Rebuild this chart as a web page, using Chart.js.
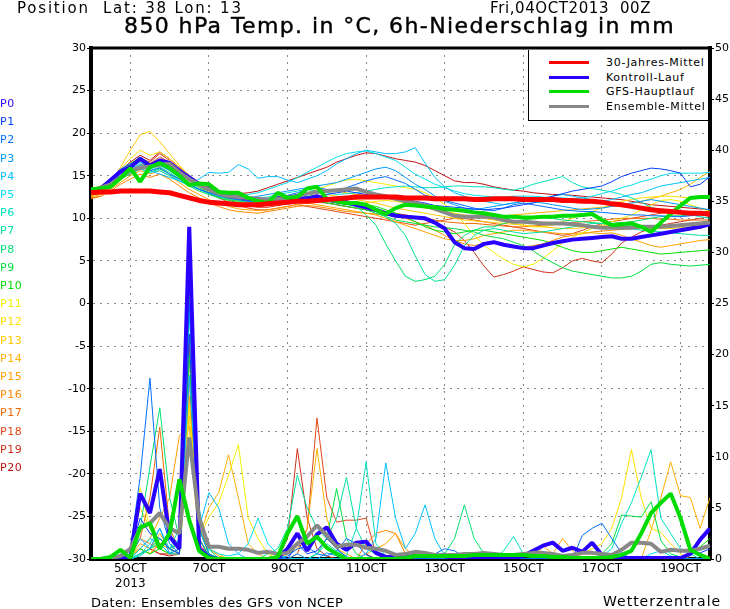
<!DOCTYPE html>
<html>
<head>
<meta charset="utf-8">
<script src="https://cdn.jsdelivr.net/npm/chart.js@4.4.1/dist/chart.umd.min.js"></script>
<style>
  html, body { margin: 0; padding: 0; background: #fff; }
  #wrap { position: relative; width: 730px; height: 609px; font-family: 'DejaVu Sans', sans-serif; color: #000; }
  #wrap canvas { position: absolute; left: 0; top: 0; }
  .txt { position: absolute; white-space: pre; line-height: 1; }
  #legend { position: absolute; left: 528px; top: 50px; width: 180px; height: 71px; background: #fff;
            border-left: 1px solid #000; border-bottom: 1px solid #000; box-sizing: border-box; }
  .item { position: absolute; left: 0; height: 14px; width: 180px; }
  .item span.sw { position: absolute; left: 20px; top: 5px; width: 40px; height: 3px; }
  .item span.lb { position: absolute; left: 77px; top: 0; font-size: 11px; line-height: 14px; letter-spacing: 0.7px; }
  .plab { position: absolute; left: 0; font-size: 11px; line-height: 12px; letter-spacing: 0.5px; }
</style>
</head>
<body>
<div id="wrap">
  <canvas id="graph" width="730" height="609"></canvas>
  <div class="txt" style="left:17px;top:1px;font-size:15px;letter-spacing:1.8px;">Position  Lat: 38 Lon: 13</div>
  <div class="txt" style="left:490px;top:1px;font-size:15px;letter-spacing:0.6px;">Fri,04OCT2013  00Z</div>
  <div class="txt" style="left:124px;top:15px;font-size:22px;letter-spacing:1.4px;-webkit-text-stroke:0.4px #000;">850 hPa Temp. in °C, 6h-Niederschlag in mm</div>
  <div id="legend"></div>
  <div id="plabels"></div>
  <div class="txt" style="left:91px;top:596px;font-size:13px;letter-spacing:0.3px;">Daten: Ensembles des GFS von NCEP</div>
  <div class="txt" style="left:603px;top:594px;font-size:14px;letter-spacing:1px;">Wetterzentrale</div>
</div>
<script>
// forecast hours from 04OCT2013 00Z, 6h steps
var hours = [0,6,12,18,24,30,36,42,48,54,60,66,72,78,84,90,96,102,108,114,
  120,126,132,138,144,150,156,162,168,174,180,186,192,198,204,210,216,222,228,234,
  240,246,252,258,264,270,276,282,288,294,300,306,312,318,324,330,336,342,348,354,
  360,366,372,378];

var xTickHours = [24, 72, 120, 168, 216, 264, 312, 360];
var xTickLabels = ["5OCT", "7OCT", "9OCT", "11OCT", "13OCT", "15OCT", "17OCT", "19OCT"];
var memberNames = ["P0","P1","P2","P3","P4","P5","P6","P7","P8","P9","P10",
  "P11","P12","P13","P14","P15","P16","P17","P18","P19","P20"];
var memberColors = ["#2800ff","#0040ff","#0070ff","#0098ff","#00c0ff","#00e0f0","#00e0c0",
  "#00e0a0","#00e070","#00e040","#00e000","#f0f000","#ffe000","#ffc800","#ffb000",
  "#ffa000","#ff8800","#f06800","#e04818","#d03018","#c01010"];

// 850 hPa temperature (left axis)
var tMittel30 = [13.0,13.1,13.1,13.2,13.2,13.2,13.2,13.1,13.0,12.7,12.4,12.1,11.9,11.8,11.7,11.6,11.6,11.6,11.7,11.8,11.9,
  12.0,12.0,12.1,12.2,12.3,12.4,12.5,12.5,12.5,12.5,12.5,12.4,12.4,12.4,12.3,12.3,12.3,12.3,12.2,12.2,
  12.3,12.3,12.3,12.2,12.2,12.2,12.2,12.1,12.1,12.0,12.0,11.9,11.7,11.6,11.4,11.2,11.0,10.9,10.8,10.7,10.6,10.6,10.5];
var tKontroll = [13.3,13.5,14.5,15.5,16.0,17.0,16.2,16.8,16.5,15.6,14.8,14.0,13.5,13.0,12.6,12.5,12.3,12.2,12.0,12.4,12.3,
  12.5,12.3,12.6,12.2,12.0,11.9,11.6,11.3,11.0,10.6,10.3,10.2,10.1,10.0,9.5,8.8,7.2,6.5,6.4,7.0,
  7.2,6.9,6.7,6.5,6.5,6.8,7.1,7.3,7.5,7.6,7.7,7.8,7.9,7.6,7.6,7.8,8.0,8.2,8.4,8.6,8.8,9.0,9.3];
var tGfs = [13.4,13.5,13.7,14.7,15.9,14.3,16.0,16.5,15.9,15.0,13.9,14.1,14.0,13.1,13.0,13.0,12.4,12.0,11.8,13.0,12.4,
  12.5,13.5,13.7,12.3,12.0,11.8,11.8,11.6,11.0,10.5,11.2,11.6,11.5,11.4,11.3,11.1,11.0,10.9,10.7,10.6,
  10.4,10.2,10.2,10.1,10.1,10.2,10.2,10.3,10.3,10.4,10.5,9.8,9.2,9.3,9.4,9.0,8.4,9.5,10.5,11.5,12.4,12.5,12.5];
var tEnsMittel = [13.3,13.6,14.0,14.8,15.6,15.9,16.1,16.3,16.4,15.4,14.6,14.0,13.4,12.9,12.6,12.5,12.4,12.3,12.2,12.3,12.4,
  12.6,12.9,13.1,13.2,13.3,13.4,13.5,13.1,12.8,12.6,12.3,12.0,11.8,11.5,11.1,10.7,10.3,10.2,10.2,10.2,
  10.1,9.8,9.6,9.6,9.5,9.4,9.4,9.4,9.3,9.2,9.0,8.9,8.9,8.9,8.9,9.0,9.0,9.0,9.1,9.2,9.3,9.4,9.5];

var tP1 = [13.0,13.4,14.2,15.2,16.0,17.0,16.0,16.6,16.0,15.2,14.6,14.0,13.5,13.0,12.8,12.6,12.4,12.2,12.0,12.3,12.6,
  12.8,12.6,12.4,12.8,13.0,13.2,13.0,12.8,12.6,12.4,12.3,12.2,12.0,11.8,11.5,11.4,11.3,11.2,11.1,11.0,
  11.1,11.2,11.4,11.6,11.8,12.2,12.6,12.9,13.2,13.4,13.6,13.8,14.3,14.9,15.3,15.6,15.9,15.8,15.6,15.3,13.7,14.0,14.9];
var tP2 = [13.2,13.6,14.6,15.8,16.4,16.8,15.6,15.9,15.2,14.6,14.0,13.4,13.0,12.7,12.4,12.2,12.0,11.9,12.1,12.4,12.7,
  13.0,13.4,13.6,13.4,13.2,13.6,14.0,14.4,14.7,14.9,14.5,14.1,13.4,12.7,12.4,12.1,11.8,11.5,11.2,11.0,
  10.9,11.2,11.6,11.8,11.6,11.4,11.2,11.0,10.9,10.8,10.8,10.7,10.6,10.5,10.4,10.4,10.3,10.3,10.2,10.2,10.3,10.4,10.5];
var tP3 = [12.8,13.2,14.0,15.0,15.6,16.2,15.8,16.2,15.6,14.8,14.0,13.4,13.0,12.6,12.4,12.2,12.4,12.6,12.8,13.0,13.2,
  13.4,13.6,13.8,14.0,14.2,14.6,15.0,15.4,15.8,16.0,15.6,14.8,14.0,13.4,12.6,12.0,11.6,11.2,11.0,11.2,
  11.4,11.6,11.8,12.0,11.9,11.8,11.6,11.4,11.2,11.0,11.1,11.2,11.4,11.6,11.8,12.0,12.2,12.0,11.8,11.6,11.4,11.2,11.0];
var tP4 = [13.0,13.4,14.2,15.0,15.8,16.4,15.6,15.2,14.8,14.4,14.0,14.6,15.4,15.3,15.4,16.3,15.8,14.7,14.9,14.9,14.5,
  14.2,14.6,15.0,15.6,16.4,17.0,17.6,18.0,17.8,17.6,17.6,17.8,18.3,16.5,14.8,13.7,13.0,12.6,12.2,12.0,
  11.8,11.6,11.8,12.0,12.2,12.4,12.6,12.8,12.6,12.4,12.2,12.0,12.2,12.5,12.8,13.0,13.4,13.8,14.0,14.2,14.4,14.6,14.8];
var tP5 = [12.9,13.3,14.0,14.8,15.4,15.8,15.4,15.6,15.0,14.4,13.8,13.4,13.0,12.8,12.6,12.6,12.8,13.0,13.4,13.8,14.2,
  14.8,15.4,16.0,16.6,17.2,17.6,17.8,17.9,17.6,17.2,16.8,16.0,15.2,14.6,14.0,13.6,13.2,12.9,12.7,12.6,
  12.5,12.5,12.6,12.6,12.6,12.5,12.4,12.4,12.3,12.4,12.6,12.9,13.2,13.6,13.9,14.3,14.6,15.0,15.3,15.3,15.3,15.3,15.4];
var tP6 = [13.1,13.5,14.4,15.4,16.2,16.8,16.2,16.8,16.4,15.6,14.8,14.2,13.6,13.2,12.9,12.7,12.5,12.4,12.5,12.8,13.0,
  13.2,13.4,13.2,13.0,12.8,12.9,13.0,13.2,13.4,13.6,13.7,13.8,13.7,13.6,13.6,13.7,13.8,13.8,13.7,13.7,
  13.6,13.4,13.3,13.6,14.0,14.3,14.6,14.9,14.2,13.7,13.5,13.3,13.1,12.8,12.4,11.9,11.3,11.0,10.8,10.6,10.4,10.2,10.0];
var tP7 = [13.2,13.6,14.4,15.4,16.0,16.6,16.0,16.4,15.8,15.0,14.2,13.6,13.0,12.6,12.3,12.1,12.0,11.9,12.0,12.2,12.4,
  12.6,12.4,12.2,12.0,11.8,11.6,11.4,11.2,10.8,10.2,9.4,8.0,5.6,3.4,2.6,2.8,4.5,6.8,8.0,8.6,
  8.8,8.6,8.4,8.2,8.3,8.4,8.6,8.8,9.0,9.2,9.4,9.4,9.2,9.0,8.8,8.6,8.5,8.4,8.3,8.2,8.1,8.0,8.0];
var tP8 = [13.0,13.4,14.0,14.8,15.4,16.0,15.6,16.0,15.4,14.6,14.0,13.4,12.9,12.5,12.2,12.0,11.9,11.9,12.1,12.3,12.5,
  12.6,12.5,12.3,12.2,12.0,11.9,11.4,10.4,9.2,7.0,5.0,3.2,2.6,2.8,3.2,4.6,6.9,8.0,8.6,9.0,
  9.0,9.4,9.6,9.8,10.0,10.1,10.0,9.8,9.7,9.6,9.5,9.4,9.4,9.5,9.6,9.8,10.0,10.2,10.3,10.3,10.4,10.4,10.5];
var tP9 = [12.8,13.2,13.8,14.6,15.2,15.8,15.4,15.8,15.2,14.4,13.8,13.2,12.8,12.4,12.1,11.8,11.6,11.6,11.8,12.0,12.2,
  12.4,12.2,12.0,11.8,11.6,11.4,11.2,11.0,10.6,10.2,9.8,9.6,9.4,9.2,9.0,8.9,8.8,8.6,8.4,8.0,
  7.8,7.6,7.2,6.8,6.2,5.4,4.8,4.2,3.8,3.6,3.4,3.2,3.0,3.0,3.2,3.8,4.6,4.8,4.6,4.5,4.4,4.5,4.6];
var tP10 = [13.4,13.8,14.6,15.6,16.4,17.2,16.4,16.8,16.2,15.4,14.6,14.0,13.4,13.0,12.7,12.4,12.2,12.0,12.0,12.2,12.4,
  12.6,12.8,12.6,12.4,12.2,12.0,11.8,11.6,11.4,11.0,10.6,10.2,9.6,9.0,8.6,8.4,8.2,8.4,8.6,8.6,
  8.4,8.2,8.0,7.8,7.6,7.4,7.0,6.6,6.2,6.0,6.0,6.2,6.4,6.6,6.4,6.2,6.0,5.8,5.9,6.0,6.1,6.2,6.3];
var tP11 = [12.6,13.0,13.6,14.6,15.4,16.2,15.8,16.4,15.8,15.0,14.2,13.6,13.0,12.6,12.3,12.0,11.8,11.6,11.8,12.0,12.3,
  12.6,13.0,13.4,13.8,14.2,14.5,14.6,14.4,14.2,14.0,13.8,13.6,13.4,13.0,12.4,11.6,10.6,9.4,8.0,6.8,
  6.0,5.2,4.6,4.3,4.6,5.3,6.2,7.1,7.8,8.3,8.8,9.2,9.6,10.0,10.4,11.0,11.6,12.1,12.2,12.0,11.6,11.2,10.8];
var tP12 = [13.0,13.4,14.4,15.8,17.0,18.0,17.4,17.8,17.0,16.0,15.0,14.2,13.6,13.0,12.6,12.2,12.0,11.8,11.7,11.9,12.1,
  12.3,12.4,12.2,12.0,11.8,11.6,11.6,11.8,12.0,12.1,12.0,11.8,11.5,11.2,11.0,10.8,10.6,10.4,10.2,10.0,
  9.8,9.6,9.4,9.2,9.0,9.0,9.2,9.6,10.0,10.4,10.8,11.2,11.6,12.0,12.2,12.4,12.5,12.6,12.6,12.5,12.4,12.4,12.4];
var tP13 = [12.7,13.0,14.2,16.0,18.0,19.8,20.2,19.0,17.6,16.2,15.0,14.0,13.2,12.6,12.2,11.9,11.7,11.6,11.7,11.9,12.0,
  12.2,12.4,12.6,12.8,12.6,12.4,12.2,12.0,11.8,11.5,11.2,11.0,10.8,10.6,10.4,10.2,10.0,9.8,9.7,9.6,
  9.5,9.4,9.3,9.2,9.1,9.0,8.9,8.8,8.8,8.9,9.0,9.1,9.2,9.1,9.0,8.9,8.8,8.8,8.8,8.9,9.0,9.1,9.2];
var tP14 = [13.1,13.5,14.2,15.2,16.0,16.8,16.2,16.6,16.0,15.2,14.4,13.8,13.2,12.8,12.4,12.1,11.9,11.8,12.0,12.3,12.6,
  12.8,13.0,13.2,13.4,13.2,13.0,12.8,12.7,12.6,12.4,12.2,12.0,11.8,11.6,11.4,11.2,11.0,10.8,10.6,10.5,
  10.4,10.3,10.4,10.5,10.6,10.7,10.8,10.9,11.0,11.1,11.2,11.3,11.4,11.6,11.8,12.0,12.3,12.6,13.0,13.4,14.0,14.8,15.5];
var tP15 = [12.5,12.8,13.4,14.2,15.0,15.6,15.2,15.6,15.0,14.2,13.4,12.8,12.2,11.8,11.4,11.1,11.0,10.9,11.0,11.2,11.4,
  11.6,11.8,11.6,11.4,11.2,11.0,10.8,10.6,10.4,10.0,9.6,9.2,8.8,8.4,8.0,7.6,7.4,7.4,7.6,8.0,
  8.2,8.4,8.6,8.6,8.5,8.4,8.3,8.2,8.2,8.3,8.3,8.2,8.3,8.0,7.6,7.2,6.8,6.6,6.8,7.0,7.2,7.4,7.5];
var tP16 = [12.4,12.6,13.2,14.0,14.6,15.2,14.8,15.2,14.6,13.8,13.0,12.4,11.8,11.4,11.0,10.8,10.7,10.6,10.8,11.0,11.2,
  11.4,11.5,11.4,11.2,11.0,10.8,10.7,10.6,10.5,10.4,10.3,10.0,9.6,9.2,8.6,8.0,7.4,7.0,6.8,7.0,
  7.2,7.0,6.8,6.6,6.8,7.0,7.4,7.8,8.0,8.2,8.4,8.5,8.6,8.7,8.8,8.9,9.0,9.0,9.1,9.2,9.2,9.3,9.3];
var tP17 = [12.3,12.6,13.6,14.8,15.6,16.4,16.0,16.4,15.8,15.0,14.2,13.6,13.0,12.6,12.3,12.0,11.8,11.7,11.8,12.0,12.2,
  12.4,12.2,12.0,11.8,11.6,11.4,11.2,11.1,11.0,10.8,10.6,10.4,10.2,10.0,9.8,9.6,9.5,9.4,9.4,9.3,
  9.2,9.1,9.0,9.0,9.1,9.2,9.3,9.4,9.5,9.6,9.7,9.8,9.9,10.0,10.0,10.0,10.0,9.9,9.9,9.8,9.8,9.8,9.8];
var tP18 = [12.6,13.0,13.8,15.0,16.0,16.8,16.4,17.2,16.6,15.6,14.6,13.8,13.0,12.4,11.9,11.5,11.2,11.0,11.0,11.2,11.4,
  11.6,11.4,11.2,11.0,10.8,10.6,10.4,10.2,10.0,9.8,9.6,9.4,9.2,9.4,9.6,9.8,10.0,10.0,9.8,9.6,
  9.4,9.2,9.0,8.8,8.6,8.4,8.2,8.0,8.2,8.6,9.0,9.4,9.6,9.8,10.0,10.2,10.4,10.6,10.7,10.8,10.8,10.8,10.8];
var tP19 = [12.8,13.2,14.2,15.4,16.4,17.0,16.6,17.6,16.8,15.8,14.8,14.0,13.2,12.6,12.2,11.8,11.5,11.3,11.3,11.5,11.7,
  11.9,12.0,11.9,11.8,11.6,11.4,11.2,11.0,10.8,10.6,10.4,10.2,10.0,9.8,9.4,9.0,8.4,7.4,6.0,4.4,
  3.1,3.4,3.8,4.3,4.0,3.7,3.6,4.2,5.0,5.3,5.0,4.8,5.8,7.1,7.8,8.4,8.8,9.2,9.4,9.6,9.8,10.0,10.2];
var tP20 = [12.9,13.3,14.4,15.6,16.6,17.4,16.8,17.8,17.0,16.0,15.0,14.2,13.6,13.2,13.0,12.9,13.0,13.2,13.6,14.0,14.4,
  14.8,15.2,15.6,16.0,16.6,17.0,17.4,17.7,17.6,17.3,17.0,16.8,16.6,16.2,15.6,15.0,14.4,14.2,14.2,14.0,
  13.7,13.5,13.3,13.2,13.0,12.9,12.8,12.8,12.7,12.6,12.5,12.4,12.3,12.2,12.0,11.8,11.6,11.5,11.4,11.3,11.2,11.1,11.0];

// 6h precipitation in mm (right axis)
var rKontroll = [0,0,0,0,0.1,6.4,4.5,8.8,2.2,1.0,32.5,1.0,0.2,0,0,0,
  0,0,0,0.1,1.0,2.5,0.8,2.4,3.1,1.5,0.9,1.6,1.7,0.6,0.2,0.2,
  0.2,0.3,0.3,0.4,0.3,0,0,0,0,0,0,0.1,0.3,0.8,1.3,1.6,
  0.8,1.1,0.7,1.6,0.4,0.1,0.1,0.1,0.1,0.1,0.1,0.1,0.1,0.5,1.9,3.0];
var rGfs = [0,0,0.2,0.9,0.1,3.1,3.5,1.0,2.5,7.8,3.8,0.8,0.1,0,0,0,
  0,0,0,0.2,2.5,4.2,1.5,2.2,1.1,0.5,0,0,0,0,0,0,
  0.1,0.3,0.3,0.3,0.3,0.3,0.3,0.4,0.4,0.4,0.4,0.4,0.4,0.3,0.3,0.2,
  0.2,0.1,0.1,0.1,0.1,0.2,0.4,0.8,2.5,4.5,5.5,6.4,4.0,0.9,0.4,0];
var rEnsMittel = [0,0,0.1,0.3,1.0,3.0,3.5,4.5,3.0,2.5,11.9,4.0,1.2,1.2,1.0,1.0,
  0.9,0.6,0.7,0.5,0.6,1.5,2.2,3.3,2.3,1.2,1.4,1.4,1.1,1.0,0.8,0.4,
  0.5,0.7,0.6,0.4,0.4,0.4,0.5,0.5,0.6,0.5,0.4,0.4,0.5,0.6,0.6,0.5,
  0.3,0.4,0.6,0.6,0.5,0.4,0.9,1.6,1.6,1.5,0.7,0.9,0.8,0.8,1.0,1.3];

var rP1 = [0,0,0,0,0.5,4.0,2.5,2.0,1.0,0.5,22,1.0,0,0,0,0,
  0,0,0,0,0,1.5,0.5,0.8,2.0,1.0,0.2,0,0,0,0,0,
  0,0,0,0,0,0,0,0,0,0,0,0,0,0,0,0,
  0,0,0,0,0,0,0,0,0,0,0,0,0.2,0.5,0.6,1.0];
var rP2 = [0,0,0,0,1.0,8.0,17.7,5.0,1.5,0.5,25,2.0,0.2,0,0,0,
  0,0,0,0,0.3,1.0,1.2,0.5,0.3,0.8,2.0,1.5,0.4,0,0,0,
  0,0,0,0.5,1.0,0.8,0.2,0,0,0,0,0,0,0,0,0,
  0,0,2.3,3.0,3.5,2.0,0.6,0,0,0,0,0,0,0,0,0];
var rP3 = [0,0,0,0,0.3,2.0,1.0,3.0,0.5,1.0,28,3.0,0.5,0,0,0,
  0,0,0,0,0,0.5,0,0,0.6,0.3,0,0,0,0,0,0,
  0,0,0,0,0,0,0,0,0,0,0,0,0,0,0,0,
  0,0,0,0,0,0,0,0,0,0,0,0,0,0,0,0];
var rP4 = [0,0,0,0,0,1.0,2.0,1.5,0.5,0.5,18,3.0,6.5,5.0,1.5,0.5,
  0,0,0,0,0,0,0,0,0,0,0,0,0.5,2.0,9.4,4.0,
  1.0,2.5,5.3,2.0,0.3,0,0,0,0,0,0,0,0,0,0,0,
  0,0,0,0,0,0,0,0,0,0,0,0,0,0,0,0];
var rP5 = [0,0,0,0,0,0.5,1.5,3.0,1.0,2.0,30,4.0,1.0,0.5,0.3,0.5,
  1.5,4.0,1.5,0.5,0,0,0,0,0,0,0,0,0,0,0,0,
  0,0,0,0,0,0,0,0,0,0,0,0,0,0,0,0,
  0,0,0,0,0,0,0,0,0,0.5,0.8,0.3,0,0,0,0];
var rP6 = [0,0,0,0,0,0.3,1.0,2.0,1.0,3.0,24,5.0,0.5,0,0,0,
  0,0,0,0,0,0,0,0.5,1.5,0.8,0.3,3.0,9.5,1.5,0.3,0,
  0,0,0,0,0,0,0,0,0,0,0.8,2.2,0.5,0,0,0,
  0,0,0,0,0.3,1.0,3.5,5.5,8.0,10.7,4.0,2.5,1.0,0.5,0,0];
var rP7 = [0,0,0,0,0,0.5,1.0,1.5,0.5,2.0,29,3.0,0.5,0,0,0,
  0,0,0.5,1.0,3.0,8.2,5.0,3.0,2.0,4.0,8.0,3.0,1.0,0.5,0,0,
  0,0,0,0,0,0,0,0,0,0,0,0,0,0,0,0,
  0,0,0,0,0,0,0,0,0,0,0,0,0,0,0,0];
var rP8 = [0,0,0,0,0.5,3.0,9.0,14.8,6.0,2.0,27,4.0,1.0,0,0,0,
  0,0,0,0,0,0,0,0,0,0,0,0,0,0,0,0,
  0,0,0,0,0.5,2.0,5.3,2.0,0.5,0,0,0,0,0,0,0,
  0,0,0,0,0,0,0,0,0,0,0,0,0,0,0,0];
var rP9 = [0,0,0,0,0,0.5,1.0,2.0,1.0,1.5,20,2.0,0.3,0,0,0,
  0,0,0,0,0,0,0,0.5,2.0,6.9,2.0,0.5,0,0,0,0,
  0,0,0,0,0,0,0,0,0,0,0,0,0,0,0,0,
  0,0,0,0,0.5,1.5,4.3,4.2,4.1,5.6,1.8,0.5,0.2,0,0,0];
var rP10 = [0,0,0,0,0,1.0,0.5,1.0,0.5,1.0,26,3.0,0.5,0,0,0,
  0,0,0,0,0,0,0,0,0,0,0,0,0,0,0,0,
  0,0,0,0,0,0,0,0,0,0,0,0,0,0,0,0,
  0,0,0,0,0,0,0,0,0,0,0,0,0,0.5,1.2,2.0];
var rP11 = [0,0,0,0,0.5,7.0,3.0,1.0,0.5,0.5,12,2.0,4.1,5.5,8.2,11.2,
  4.0,2.0,0.5,0,0,0,0,0,0,0,0,0,0,0,0,0,
  0,0,0,0,0,0,0,0,0,0,0,0,0,0,0,0,
  0,0,0,0,0,0,0,0,0,0,0,0,0,0,0,0];
var rP12 = [0,0,0,0,0.3,1.0,0.5,2.0,1.0,0.5,15,2.0,0.5,0,0,0,
  0,0,0,0,0,0,0,0,0,0,0,0,0,0,0,0,
  0,0,0,0,0,0,0,0,0,0,0,0,0,0,0,0.5,
  0,0,0.5,1.0,1.5,3.0,6.0,10.7,6.0,3.0,2.6,1.5,0.5,0,0,0];
var rP13 = [0,0,0,0,1.0,5.0,3.0,1.5,1.0,2.0,14,3.0,1.0,0.5,0,0,
  0,0,0,0,0,0,0,0,0,0,0,0,0,0,0,0,
  0,0,0,0,0,0,0,0,0,0,0,0,0,0,0,0,
  0,0,0,0,0,0,0,0,0,0,0,0,0,0,0,0];
var rP14 = [0,0,0,0,0.3,1.5,1.0,2.5,1.0,2.0,16,2.0,5.0,6.5,10.2,6.0,
  1.5,0.5,0,0,0.5,1.0,3.0,10.8,4.0,1.0,0.5,0,0,0,0,0,
  0,0,0,0,0,0,0,0,0,0,0,0,0,0,0,0,
  0,0,0,0,0,0,0,0,0,2.8,6.0,9.5,6.2,6.0,3.0,6.0];
var rP15 = [0,0,0,0,0.5,1.0,2.0,4.0,6.0,12.1,13,3.0,1.0,0.3,0,0,
  0,0,0,0,0,0,0,0,0,0,0,0,0.5,1.0,1.5,2.5,
  1.0,0.3,0,0,0,0,0,0,0,0,0,0,0,0,1.3,0.5,
  2.0,0.8,0,0,0,0,0,0,0,0,0,0,0,0,0,0];
var rP16 = [0,0,0,0,0.3,2.0,1.5,1.0,2.0,1.5,22,4.0,0.5,0,0,0,
  0,0,0,0,0,0,0,0,0,0,0,0,1.5,2.5,2.8,2.5,
  0.5,0,0,0,0,0,0,0,0,0,0,0,0,0,0,0,
  0,0,0,0,0,0,0,0,0,0,0,0,0,0,0,0];
var rP17 = [0,0,0,0,0.5,2.0,6.0,12.9,3.0,1.0,20,3.0,0.5,0,0,0,
  0,0,0,0,0,0,0,0,0,0,0,0,0,0,0,0,
  0,0,0,0,0,0,0,0,0,0,0,0,0,0,0,0,
  0,0,0,0,0,0,0,0,0,0,0,0,0,0,0,0];
var rP18 = [0,0,0,0,0.3,1.0,0.5,1.5,1.0,0.5,26,2.0,0.3,0,0,0,
  0,0,0,0,0,0.5,3.0,13.8,6.0,3.6,3.8,3.8,4.0,0.5,0,0,
  0,0,0,0,0,0,0,0,0,0,0,0,0,0,0,0,
  0,0,0,0,0,0,0,0,0,0,0,0,0,0,0,0];
var rP19 = [0,0,0,0,0,0.5,1.0,0.5,0.5,0.5,21,1.5,0.2,0,0,0,
  0,0,0,0,2.0,10.8,4.0,1.0,0.3,0,0,0,0,0,0,0,
  0,0,0,0,0,0,0,0,0,0,0,0,0,0,0,0,
  0,0,0,0,0,0,0,0,0,0,0,0,0,0,0,0];
var rP20 = [0,0,0,0,0,0.5,1.0,0.5,0.3,0.5,18,1.0,0,0,0,0,
  0,0,0,0,0,0,0,0,0,0,0,0,0.5,0,0,0,
  0,0,0,0,0,0,0,0,0,0,0,0,0,0,0,0,
  0,0,0,0,0,0,0,0,0,0,0,0,0,0,0,0];

var tempMembers = [tP1,tP2,tP3,tP4,tP5,tP6,tP7,tP8,tP9,tP10,tP11,tP12,tP13,tP14,tP15,tP16,tP17,tP18,tP19,tP20];
var rainMembers = [rP1,rP2,rP3,rP4,rP5,rP6,rP7,rP8,rP9,rP10,rP11,rP12,rP13,rP14,rP15,rP16,rP17,rP18,rP19,rP20];

var legendItems = [
  ["30-Jahres-Mittel", "#ff0000"],
  ["Kontroll-Lauf", "#2800ff"],
  ["GFS-Hauptlauf", "#00dc00"],
  ["Ensemble-Mittel", "#888888"]
];

// legend and member labels as html text
var leg = document.getElementById("legend");
legendItems.forEach(function (it, i) {
  var d = document.createElement("div");
  d.className = "item";
  d.style.top = (6 + i * 14.7) + "px";
  d.innerHTML = '<span class="sw" style="background:' + it[1] + '"></span><span class="lb">' + it[0] + '</span>';
  leg.appendChild(d);
});
var pl = document.getElementById("plabels");
memberNames.forEach(function (n, i) {
  var d = document.createElement("div");
  d.className = "plab";
  d.style.top = (98 + i * 18.2) + "px";
  d.style.color = memberColors[i];
  d.textContent = n;
  pl.appendChild(d);
});

function pts(arr) {
  return arr.map(function (v, i) { return {x: hours[i], y: v}; });
}

var datasets = [];
function addLine(arr, color, width, axis, order) {
  datasets.push({
    data: pts(arr),
    borderColor: color,
    borderWidth: width,
    yAxisID: axis,
    order: order,
    pointRadius: 0,
    tension: 0,
    fill: false,
    borderJoinStyle: 'bevel'
  });
}

addLine(tMittel30, "#ff0000", 5, 'y', 0);
addLine(tGfs, "#00dc00", 4, 'y', 1);
addLine(tEnsMittel, "#888888", 4, 'y', 2);
addLine(tKontroll, "#2800ff", 4, 'y', 3);
addLine(rGfs, "#00dc00", 4, 'y2', 1);
addLine(rEnsMittel, "#888888", 4, 'y2', 2);
addLine(rKontroll, "#2800ff", 4, 'y2', 3);
for (var k = 0; k < tempMembers.length; k++) {
  addLine(tempMembers[k], memberColors[k + 1], 1, 'y', 10);
  addLine(rainMembers[k], memberColors[k + 1], 1, 'y2', 10);
}

var topFrame = {
  id: 'topFrame',
  afterDraw: function (chart) {
    var c = chart.ctx, a = chart.chartArea;
    c.save();
    c.strokeStyle = '#000';
    c.lineWidth = 3;
    c.beginPath();
    c.moveTo(a.left - 2, a.top);
    c.lineTo(a.right + 2, a.top);
    c.stroke();
    c.restore();
  }
};

Chart.defaults.font.family = "'DejaVu Sans', sans-serif";
Chart.defaults.font.size = 11;
Chart.defaults.color = '#000';

var ctx = document.getElementById("graph").getContext('2d');
var myChart = new Chart(ctx, {
  type: 'line',
  data: { datasets: datasets },
  plugins: [topFrame],
  options: {
    responsive: false,
    animation: false,
    layout: { padding: { top: 48, left: 0, right: 0, bottom: 0 } },
    plugins: { legend: { display: false }, tooltip: { enabled: false } },
    scales: {
      x: {
        type: 'linear',
        min: 0,
        max: 378,
        afterBuildTicks: function (s) {
          s.ticks = xTickHours.map(function (h) { return {value: h}; });
        },
        afterFit: function (s) { s.height = 50; },
        ticks: {
          autoSkip: false,
          maxRotation: 0,
          padding: 3,
          font: { size: 12 },
          callback: function (v, i) {
            return i === 0 ? [xTickLabels[0], "2013"] : xTickLabels[i];
          }
        },
        grid: { color: '#888', lineWidth: 1, drawTicks: false },
        border: { color: '#000', width: 4, dash: [2, 5] }
      },
      y: {
        position: 'left',
        min: -30,
        max: 30,
        afterFit: function (s) { s.width = 91; },
        ticks: { stepSize: 5, padding: 1 },
        grid: { color: '#888', lineWidth: 1, tickColor: '#000', tickLength: 4, tickBorderDash: [] },
        border: { color: '#000', width: 4, dash: [2, 5] }
      },
      y2: {
        position: 'right',
        min: 0,
        max: 50,
        afterFit: function (s) { s.width = 20; },
        ticks: { stepSize: 5, padding: 1 },
        grid: { drawOnChartArea: false, color: '#000', tickColor: '#000', tickLength: 4 },
        border: { color: '#000', width: 4 }
      }
    }
  }
});
</script>
</body>
</html>
